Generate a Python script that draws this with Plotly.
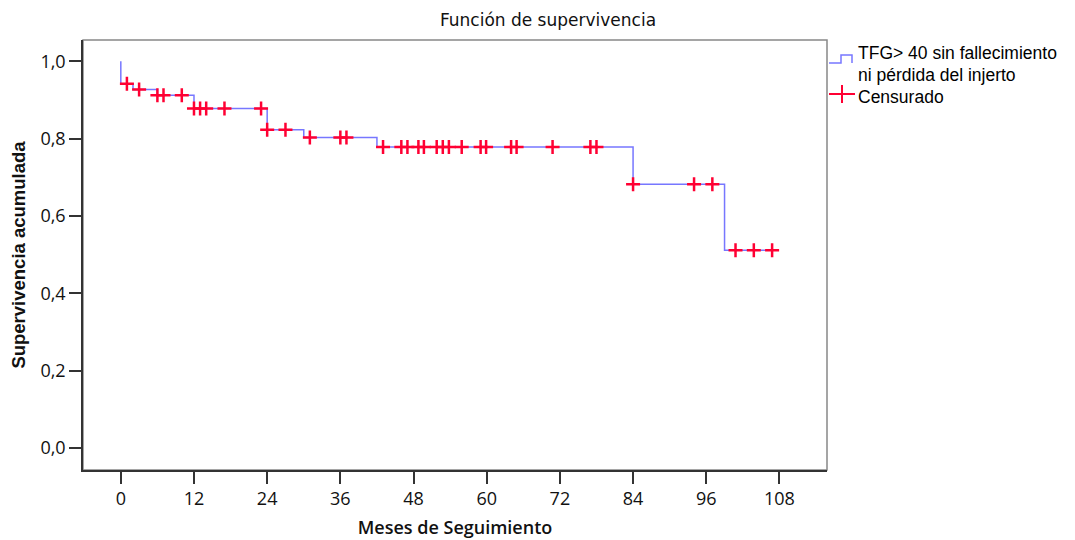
import bisect
import plotly.graph_objects as go

# Kaplan-Meier step function (event times and survival after each step)
step_times = [0, 0, 2, 6, 12, 24, 30, 42, 84, 99, 106.8]
step_surv = [1.0, 0.942, 0.927, 0.912, 0.878, 0.823, 0.803, 0.778, 0.682, 0.511, 0.511]

# Censored observations (months)
censor_times = [1, 3, 6, 7, 10, 12, 13, 14, 17, 23, 24, 27, 31, 36, 37,
                43, 46, 47, 48.8, 49.7, 51.8, 52.8, 53.8, 55.9, 59, 59.9,
                64, 64.9, 70.8, 77, 78, 84, 94, 97, 100.8, 103.8, 106.8]

x_ticks = [0, 12, 24, 36, 48, 60, 72, 84, 96, 108]
y_ticks = [0.0, 0.2, 0.4, 0.6, 0.8, 1.0]
y_tick_labels = ["0,0", "0,2", "0,4", "0,6", "0,8", "1,0"]

series_lines = ["TFG> 40 sin fallecimiento", "ni pérdida del injerto"]
censor_name = "Censurado"
title_text = "Función de supervivencia"
x_title = "Meses de Seguimiento"
y_title = "Supervivencia acumulada"

LINE_COLOR = "#7777FF"
CENSOR_COLOR = "#FF0033"

W, H = 1075, 540
ML, MR, MT, MB = 83, 248, 40, 70
PW, PH = W - ML - MR, H - MT - MB


def surv_at(t):
    i = bisect.bisect_right(step_times, t) - 1
    return step_surv[max(i, 0)]


def px(xpix):
    return (xpix - ML) / PW


def py(ypix):
    return 1 - (ypix - MT) / PH


censor_surv = [surv_at(t) for t in censor_times]

fig = go.Figure()
fig.add_trace(go.Scatter(
    x=step_times, y=step_surv, mode="lines", name="<br>".join(series_lines),
    line=dict(shape="hv", color=LINE_COLOR, width=1.5),
))
fig.add_trace(go.Scatter(
    x=censor_times, y=censor_surv, mode="markers", name=censor_name,
    marker=dict(symbol="cross-thin", size=10, color=CENSOR_COLOR,
                line=dict(color=CENSOR_COLOR, width=2.5)),
))

tick_font = dict(family="Open Sans, Lato, sans-serif", size=18, color="#111111")

# Legend drawn beside the plot (SPSS style, tight line spacing)
leg_font = dict(family="Liberation Sans, Arial, sans-serif", size=17.5, color="#000000")
annotations = []
for txt, ypix in [(series_lines[0], 53), (series_lines[1], 75), (censor_name, 97)]:
    annotations.append(dict(text=txt, xref="paper", yref="paper", x=px(857), y=py(ypix),
                            xanchor="left", yanchor="middle", showarrow=False, font=leg_font,
                            borderpad=0))

shapes = [
    dict(type="rect", xref="paper", yref="paper", x0=0, x1=1, y0=0, y1=1,
         line=dict(color="#888888", width=1.5), fillcolor="rgba(0,0,0,0)", layer="below"),
    # step-line legend glyph
    dict(type="path", xref="paper", yref="paper",
         path="M {a},{b} L {c},{b} L {c},{d} L {e},{d} L {e},{b}".format(
             a=px(829), b=py(63), c=px(841), d=py(55), e=px(852)),
         line=dict(color=LINE_COLOR, width=1.5)),
    # censor legend glyph
    dict(type="line", xref="paper", yref="paper", x0=px(829), x1=px(855), y0=py(94), y1=py(94),
         line=dict(color=CENSOR_COLOR, width=2)),
    dict(type="line", xref="paper", yref="paper", x0=px(842), x1=px(842), y0=py(85), y1=py(103),
         line=dict(color=CENSOR_COLOR, width=2)),
]

fig.update_layout(
    width=W, height=H,
    margin=dict(l=ML, r=MR, t=MT, b=MB),
    paper_bgcolor="white", plot_bgcolor="white",
    title=dict(text=title_text, x=548 / W, xanchor="center", y=1 - 20 / H, yanchor="middle",
               xref="container", yref="container",
               font=dict(family="DejaVu Sans, sans-serif", size=17, color="#111111")),
    showlegend=False,
    xaxis=dict(range=[-6.2, 115.8], tickvals=x_ticks, ticktext=[str(v) for v in x_ticks],
               showgrid=False, zeroline=False, showline=True, linecolor="#333333", linewidth=1.5,
               ticks="outside", ticklen=12, tickwidth=1.5, tickcolor="#333333",
               tickfont=tick_font, automargin=False,
               title=dict(text=x_title, standoff=12,
                          font=dict(family="Open Sans, Lato, sans-serif", size=18,
                                    color="#111111", weight=600))),
    yaxis=dict(range=[-0.057, 1.055], tickvals=y_ticks, ticktext=y_tick_labels,
               showgrid=False, zeroline=False, showline=True, linecolor="#333333", linewidth=1.5,
               ticks="outside", ticklen=12, tickwidth=1.5, tickcolor="#333333",
               tickfont=tick_font, automargin=False,
               title=dict(text=y_title, standoff=10,
                          font=dict(family="Liberation Sans, Arial, sans-serif", size=18.5,
                                    color="#111111", weight=600))),
    annotations=annotations,
    shapes=shapes,
)

fig.write_html("out.html")
